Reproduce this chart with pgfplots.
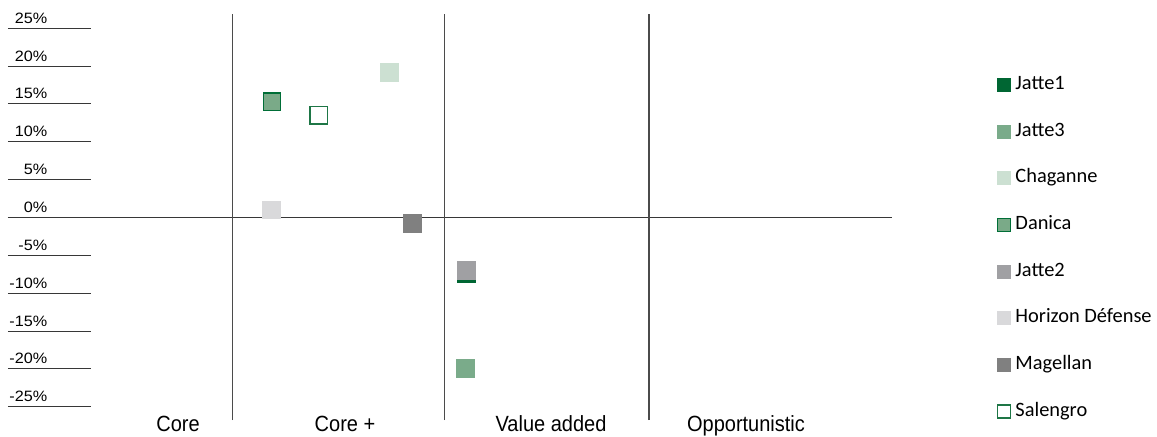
\documentclass[border=0pt]{standalone}
\usepackage{pgfplots}
\pgfplotsset{compat=1.18}
\usepackage{fontspec}
\setmainfont{Liberation Sans}
\newfontfamily\legendfont{Carlito}

\definecolor{jatteone}{RGB}{0,102,51}
\definecolor{jattethree}{RGB}{122,171,138}
\definecolor{chaganne}{RGB}{204,224,210}
\definecolor{danicafill}{RGB}{122,170,136}
\definecolor{danicaline}{RGB}{0,110,55}
\definecolor{jattetwo}{RGB}{160,160,163}
\definecolor{horizon}{RGB}{217,217,219}
\definecolor{magellan}{RGB}{128,128,128}
\definecolor{salengro}{RGB}{30,118,70}
\definecolor{axisgray}{RGB}{55,55,55}
\definecolor{divider}{RGB}{75,75,75}

\pgfplotsset{
  pt/.style={only marks, mark=square*, mark size=8.8pt,
    mark options={fill=#1, draw=#1, line width=0.5pt}},
}

\begin{document}
\begin{tikzpicture}
\begin{axis}[
  scale only axis,
  width=884pt, height=406pt,
  xmin=0, xmax=8.84,
  ymin=-26.76, ymax=26.89,
  hide axis,
  clip=false,
  legend style={
    at={(rel axis cs:1.1193,0.8488)}, anchor=north west,
    draw=none, fill=none, inner sep=0pt, outer sep=0pt,
    font=\legendfont\fontsize{20.4}{24}\selectfont,
    nodes={inner sep=0pt, text height=14pt, text depth=4.5pt, anchor=west},
    row sep=28.2pt,
    /tikz/every odd column/.append style={column sep=5pt},
  },
  legend cell align=left,
  legend image code/.code={\draw[#1, mark size=6.5pt] plot coordinates {(0pt,0pt)};},
]

% frame of the chart: zero line, category dividers, value rules
\addplot[forget plot, no marks, axisgray, line width=1.3pt] coordinates {(0,0) (8.84,0)};
\addplot[forget plot, no marks, divider, line width=1.4pt] coordinates {(2.247,-26.76) (2.247,26.89)};
\addplot[forget plot, no marks, divider, line width=1.4pt] coordinates {(4.367,-26.76) (4.367,26.89)};
\addplot[forget plot, no marks, divider, line width=1.4pt] coordinates {(6.41,-26.76) (6.41,26.89)};

\pgfplotsinvokeforeach{-25,-20,...,25}{
  \draw[axisgray, line width=1pt] (axis cs:0,#1) -- (axis cs:0.827,#1);
  \node[anchor=base east, yshift=5pt, inner sep=0pt,
        font=\fontsize{15}{17}\selectfont]
    at (axis cs:0.395,#1) {\scalebox{1.08}[1]{#1\%}};
}

% categories
\node[anchor=base, yshift=-11pt, inner sep=0pt, font=\fontsize{20}{22}\selectfont]
  at (axis cs:1.70,-26.76) {\scalebox{1}[1.1]{Core}};
\node[anchor=base, yshift=-11pt, inner sep=0pt, font=\fontsize{20}{22}\selectfont]
  at (axis cs:3.37,-26.76) {\scalebox{1}[1.1]{Core +}};
\node[anchor=base, yshift=-11pt, inner sep=0pt, font=\fontsize{20}{22}\selectfont]
  at (axis cs:5.43,-26.76) {\scalebox{1}[1.1]{Value added}};
\node[anchor=base, yshift=-11pt, inner sep=0pt, font=\fontsize{20}{22}\selectfont]
  at (axis cs:7.38,-26.76) {\scalebox{1}[1.1]{Opportunistic}};

% assets (x: position within the strategy band, y: return in %)
\addplot[pt=jatteone] coordinates {(4.58,-7.4)};
\addlegendentry{Jatte1}
\addplot[pt=jattethree] coordinates {(4.57,-19.9)};
\addlegendentry{Jatte3}
\addplot[pt=chaganne] coordinates {(3.81,19.2)};
\addlegendentry{Chaganne}
\addplot[only marks, mark=square*, mark size=8.7pt,
  mark options={fill=danicafill, draw=danicaline, line width=1.3pt}] coordinates {(2.64,15.3)};
\addlegendentry{Danica}
\addplot[pt=jattetwo] coordinates {(4.58,-7.0)};
\addlegendentry{Jatte2}
\addplot[pt=horizon] coordinates {(2.63,1.0)};
\addlegendentry{Horizon Défense}
\addplot[pt=magellan] coordinates {(4.04,-0.73)};
\addlegendentry{Magellan}
\addplot[only marks, mark=square*, mark size=8.7pt,
  mark options={fill=white, draw=salengro, line width=1.2pt}] coordinates {(3.107,13.5)};
\addlegendentry{Salengro}

\path (rel axis cs:-0.00905,1.03448) rectangle (rel axis cs:1.29977,-0.03941);
\end{axis}
\end{tikzpicture}
\end{document}
